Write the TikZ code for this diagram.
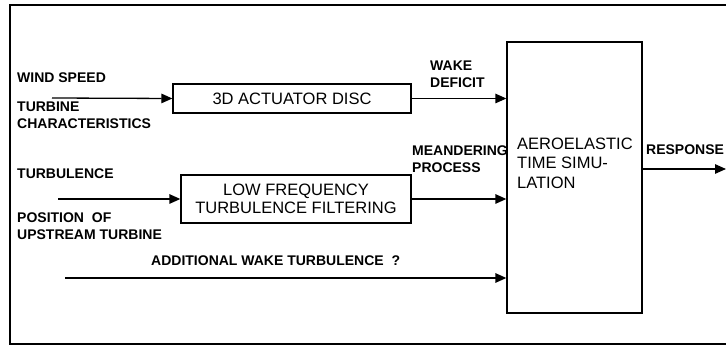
\documentclass[tikz,border=0pt]{standalone}
\usepackage{fontspec}
\setmainfont{Liberation Sans}
\usetikzlibrary{arrows.meta}
\begin{document}
\begin{tikzpicture}[x=1pt, y=-1pt,
  box/.style={draw, line width=1.3pt, inner sep=0pt, align=center,
              font=\fontsize{16.5}{18.5}\selectfont},
  lbl/.style={font=\fontsize{14}{17}\selectfont\bfseries, align=left,
              inner sep=0pt, anchor=west},
  flow/.style={line width=1.3pt, -{Triangle[length=11pt,width=9.5pt]}}]

\useasboundingbox (0,0) rectangle (726,347);
\draw[line width=1.7pt] (726,5) -- (10,5) -- (10,344) -- (726,344);

% blocks
\node[box, minimum width=238pt, minimum height=29pt] (disc) at (292,98.5) {3D ACTUATOR DISC};
\node[box, minimum width=230pt, minimum height=48pt] (filter) at (296,199)
     {LOW FREQUENCY\\ TURBULENCE FILTERING};
\node[box, minimum width=135pt, minimum height=271pt] (sim) at (574.5,177.5) {};
\node[font=\fontsize{16.5}{19.5}\selectfont, align=left, inner sep=0pt, anchor=west]
     (simtxt) at (517,163) {AEROELASTIC\\ TIME SIMU-\\ LATION};

% inputs and outputs
\node[lbl] (windspeed) at (17,78) {WIND SPEED};
\node[lbl] (turbchar) at (17,115) {TURBINE\\ CHARACTERISTICS};
\node[lbl] (turbulence) at (17,173.5) {TURBULENCE};
\node[lbl] (position) at (17,226) {POSITION\ \ OF\\ UPSTREAM TURBINE};
\node[lbl] (addwake) at (151,261) {ADDITIONAL WAKE TURBULENCE\ \ ?};
\node[lbl] (wake) at (430,74.5) {WAKE\\ DEFICIT};
\node[lbl] (meander) at (412,159.5) {MEANDERING\\ PROCESS};
\node[lbl] (response) at (646,150) {RESPONSE};

\coordinate (wsin) at (52,98);
\coordinate (tbin) at (58,199);
\coordinate (awin) at (65,278);
\coordinate (resp) at (726,169);

\draw[flow] (wsin) -- (disc.west);
\draw[flow] (disc.east) -- (disc.east -| sim.west);
\draw[flow] (tbin) -- (filter.west);
\draw[flow] (filter.east) -- (filter.east -| sim.west);
\draw[flow] (awin) -- (awin -| sim.west);
\draw[flow] (resp -| sim.east) -- (resp);
\end{tikzpicture}
\end{document}
